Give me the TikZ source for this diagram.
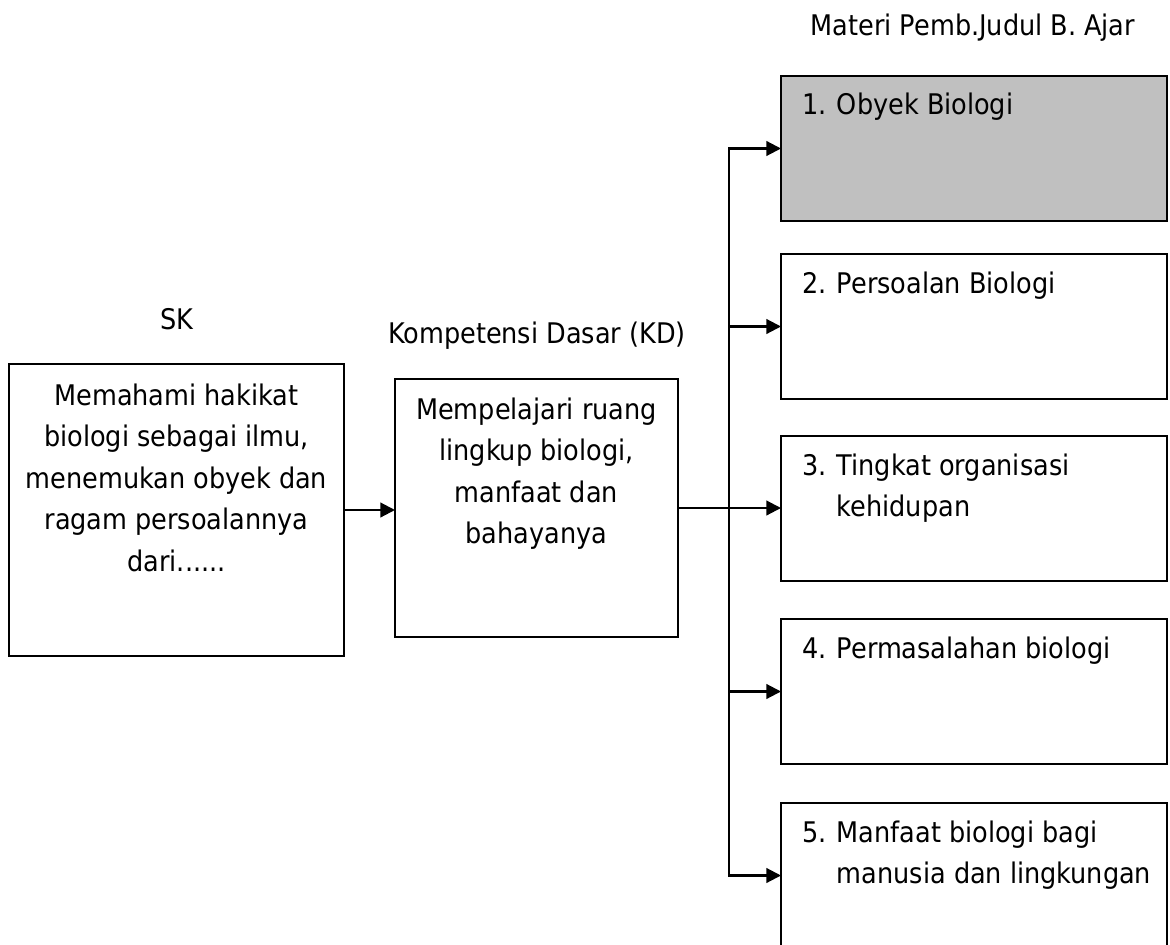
\documentclass[tikz,border=0pt]{standalone}
\usepackage{fontspec}
\setmainfont{DejaVu Sans Condensed}
\usetikzlibrary{arrows.meta,positioning}

\definecolor{boxgray}{RGB}{192,192,192}
\newcommand{\numline}[2]{\makebox[26pt][l]{#1}#2}
\newcommand{\numcont}[1]{\hspace*{26pt}#1}
\newcommand{\toplines}[2]{\begin{tabular}[t]{@{}#1@{}}#2\end{tabular}}

\tikzset{
  box/.style={draw, rectangle, line width=1.6pt, inner sep=0pt, outer sep=0pt, anchor=north west},
  matbox/.style={box, minimum width=289.5pt, minimum height=108.75pt},
  boxtext/.style={inner sep=0pt, font=\fontsize{21.3}{31.2}\selectfont},
  line/.style={line width=1.6pt, line cap=rect},
  arr/.style={line width=1.6pt, -{Triangle[length=11pt,width=11pt]}},
}

\begin{document}
\begin{tikzpicture}[x=0.75pt, y=-0.75pt]
  \useasboundingbox (0,0) rectangle (1170,945);

  % headings
  \node[boxtext, anchor=base] (sklabel) at (177,329) {SK};
  \node[boxtext, anchor=base] (kdlabel) at (537,343) {Kompetensi Dasar (KD)};
  \node[boxtext, anchor=base] (title) at (973,36) {Materi Pemb.Judul B. Ajar};

  % SK and KD
  \node[box, minimum width=251.25pt, minimum height=219pt] (sk) at (9,364) {};
  \node[boxtext, anchor=base] (sktext) at (176.5,405)
    {\toplines{c}{Memahami hakikat\\biologi sebagai ilmu,\\menemukan obyek dan\\ragam persoalannya\\dari......}};

  \node[box, minimum width=212.25pt, minimum height=193.5pt] (kd) at (395,379) {};
  \node[boxtext, anchor=base] (kdtext) at (536.5,419)
    {\toplines{c}{Mempelajari ruang\\lingkup biologi,\\manfaat dan\\bahayanya}};

  % materi boxes
  \foreach \n/\ty/\fc/\txt in {
      1/76/boxgray/{\numline{1.}{Obyek Biologi}},
      2/254/white/{\numline{2.}{Persoalan Biologi}},
      3/436/white/{\numline{3.}{Tingkat organisasi}\\\numcont{kehidupan}},
      4/619/white/{\numline{4.}{Permasalahan biologi}},
      5/803/white/{\numline{5.}{Manfaat biologi bagi}\\\numcont{manusia dan lingkungan}}}{
    \node[matbox, fill=\fc] (m\n) at (781,\ty) {};
    \node[boxtext, anchor=base west] (m\n text) at (802,\ty+39) {\toplines{l}{\txt}};
  }

  % connectors
  \coordinate (spine) at (729,0);
  \draw[arr] (sk.east) -- (sk.east -| kd.west);
  \draw[arr] (kd.east) -- (kd.east -| m3.west);
  \draw[line] (m1.west -| spine) -- (m5.west -| spine);
  \foreach \n in {1,2,4,5}
    \draw[arr] (m\n.west -| spine) -- (m\n.west);
\end{tikzpicture}
\end{document}
